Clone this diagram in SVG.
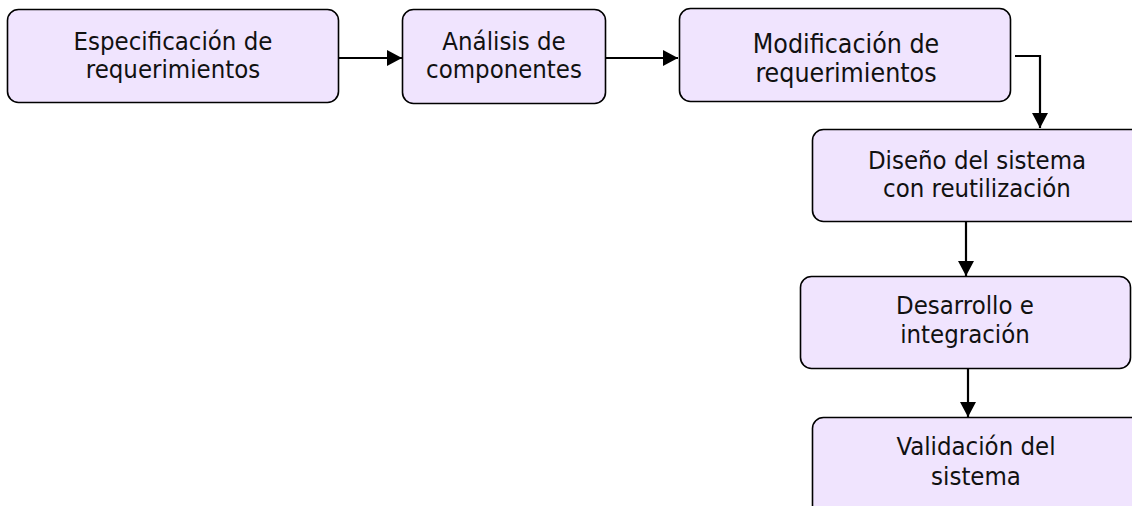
<svg xmlns="http://www.w3.org/2000/svg" width="1132" height="506" viewBox="0 0 1132 506">
  <style>
    .box { fill: #F0E4FE; stroke: #000; stroke-width: 1.6; }
    .lbl { font-family: "DejaVu Sans Condensed", "DejaVu Sans", sans-serif; font-stretch: condensed; font-size: 25.5px; fill: #111; text-anchor: middle; }
    .big { font-size: 26.5px; }
    .link { fill: none; stroke: #000; stroke-width: 2.2; }
  </style>
  <defs>
    <marker id="arrow" viewBox="0 0 15 16" refX="15" refY="8" markerWidth="15" markerHeight="16" markerUnits="userSpaceOnUse" orient="auto">
      <path d="M0,0 L15,8 L0,16 Z" fill="#000"/>
    </marker>
  </defs>

  <rect width="1132" height="506" fill="#fff"/>

  <g id="connectors">
    <line class="link" x1="339" y1="58" x2="402" y2="58" marker-end="url(#arrow)"/>
    <line class="link" x1="606" y1="58" x2="678" y2="58" marker-end="url(#arrow)"/>
    <polyline class="link" points="1015,56 1040,56 1040,128" marker-end="url(#arrow)"/>
    <line class="link" x1="966" y1="222" x2="966" y2="276" marker-end="url(#arrow)"/>
    <line class="link" x1="968" y1="369" x2="968" y2="417" marker-end="url(#arrow)"/>
  </g>

  <g id="spec-requerimientos">
    <rect class="box" x="7.5" y="9.5" width="331" height="93" rx="11"/>
    <text class="lbl" x="173" y="50">Especificación de</text>
    <text class="lbl" x="173" y="78">requerimientos</text>
  </g>

  <g id="analisis-componentes">
    <rect class="box" x="402.5" y="9.5" width="203" height="94" rx="11"/>
    <text class="lbl" x="504" y="50">Análisis de</text>
    <text class="lbl" x="504" y="78">componentes</text>
  </g>

  <g id="modificacion-requerimientos">
    <rect class="box" x="679.5" y="8.5" width="331" height="93" rx="11"/>
    <text class="lbl big" x="846" y="53">Modificación de</text>
    <text class="lbl big" x="846" y="82">requerimientos</text>
  </g>

  <g id="diseno-sistema">
    <rect class="box" x="812.5" y="129.5" width="330" height="92" rx="11"/>
    <text class="lbl" x="977" y="169">Diseño del sistema</text>
    <text class="lbl" x="977" y="197">con reutilización</text>
  </g>

  <g id="desarrollo-integracion">
    <rect class="box" x="800.5" y="276.5" width="330" height="92" rx="11"/>
    <text class="lbl" x="965" y="314">Desarrollo e</text>
    <text class="lbl" x="965" y="343">integración</text>
  </g>

  <g id="validacion-sistema">
    <rect class="box" x="812.5" y="417.5" width="330" height="100" rx="11"/>
    <text class="lbl" x="976" y="455">Validación del</text>
    <text class="lbl" x="976" y="485">sistema</text>
  </g>
</svg>
